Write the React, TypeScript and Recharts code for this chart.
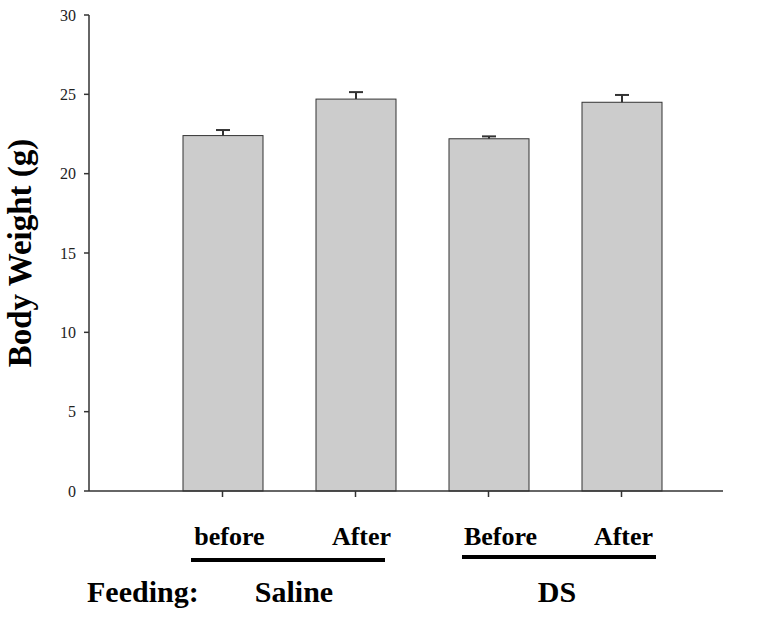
import { BarChart, Bar, XAxis, YAxis, Customized } from 'recharts'

const labels = ['before', 'After', 'Before', 'After']
const groups = ['Saline', 'Saline', 'DS', 'DS']
const weights = [22.4, 24.7, 22.2, 24.5]
const errors = [0.35, 0.44, 0.15, 0.46]
const yTicks = [0, 5, 10, 15, 20, 25, 30]

const data = labels.map((label, i) => ({
  key: `${groups[i]}-${label}`,
  label,
  group: groups[i],
  value: weights[i],
  err: errors[i],
}))

const SERIF = '"Liberation Serif", "Times New Roman", serif'
const AXIS = '#333'

// bottom label under each bar (offsets tuned to the original layout)
const labelShift = [7, 6, 12, 2]

function BottomTick(props: any) {
  const { x, index } = props
  return (
    <text
      x={x + labelShift[index]}
      y={545}
      textAnchor="middle"
      fontFamily={SERIF}
      fontWeight="bold"
      fontSize={26}
      fill="#000"
    >
      {labels[index]}
    </text>
  )
}

// bar with upper-only error whisker, scaled from the bar's own height
function BarWithError(props: any) {
  const { x, y, width, height, payload } = props
  const pxPerUnit = height / payload.value
  const top = y - payload.err * pxPerUnit
  const cx = x + width / 2
  return (
    <g>
      <rect x={x} y={y} width={width} height={height} fill="#cccccc" stroke="#333" strokeWidth={1} />
      <line x1={cx} x2={cx} y1={y} y2={top} stroke="#333" strokeWidth={2} />
      <line x1={cx - 7} x2={cx + 7} y1={top} y2={top} stroke="#333" strokeWidth={2} />
    </g>
  )
}

function GroupNotes() {
  return (
    <g fontFamily={SERIF} fontWeight="bold" fill="#000">
      <line x1={191} x2={385} y1={560} y2={560} stroke="#000" strokeWidth={4} />
      <line x1={462} x2={656} y1={557} y2={557} stroke="#000" strokeWidth={4} />
      <text x={87} y={602} fontSize={30}>Feeding:</text>
      <text x={294} y={602} fontSize={30} textAnchor="middle">Saline</text>
      <text x={557} y={602} fontSize={30} textAnchor="middle">DS</text>
    </g>
  )
}

export default function App() {
  return (
    <div style={{ position: 'absolute', left: 0, top: 0, background: '#fff' }}>
      <BarChart
        width={762}
        height={617}
        data={data}
        margin={{ top: 15, right: 39, bottom: 96, left: 29 }}
      >
        <XAxis
          dataKey="key"
          height={30}
          padding={{ left: 67, right: 35 }}
          axisLine={{ stroke: AXIS, strokeWidth: 1.5 }}
          tickLine={{ stroke: AXIS, strokeWidth: 1.5 }}
          tickSize={6}
          tick={<BottomTick />}
          interval={0}
        />
        <YAxis
          width={60}
          domain={[0, 30]}
          ticks={yTicks}
          interval={0}
          axisLine={{ stroke: AXIS, strokeWidth: 1.5 }}
          tickLine={{ stroke: AXIS, strokeWidth: 1.5 }}
          tickSize={5}
          tickMargin={8}
          tick={{ fontFamily: SERIF, fontSize: 16, fill: '#222' }}
          label={{
            value: 'Body Weight (g)',
            angle: -90,
            position: 'insideLeft',
            offset: 0,
            dx: -10,
            style: { fontFamily: SERIF, fontWeight: 'bold', fontSize: 33, fill: '#000', textAnchor: 'middle' },
          }}
        />
        <Bar dataKey="value" barSize={80} shape={<BarWithError />} isAnimationActive={false} />
        <Customized component={GroupNotes} />
      </BarChart>
    </div>
  )
}
